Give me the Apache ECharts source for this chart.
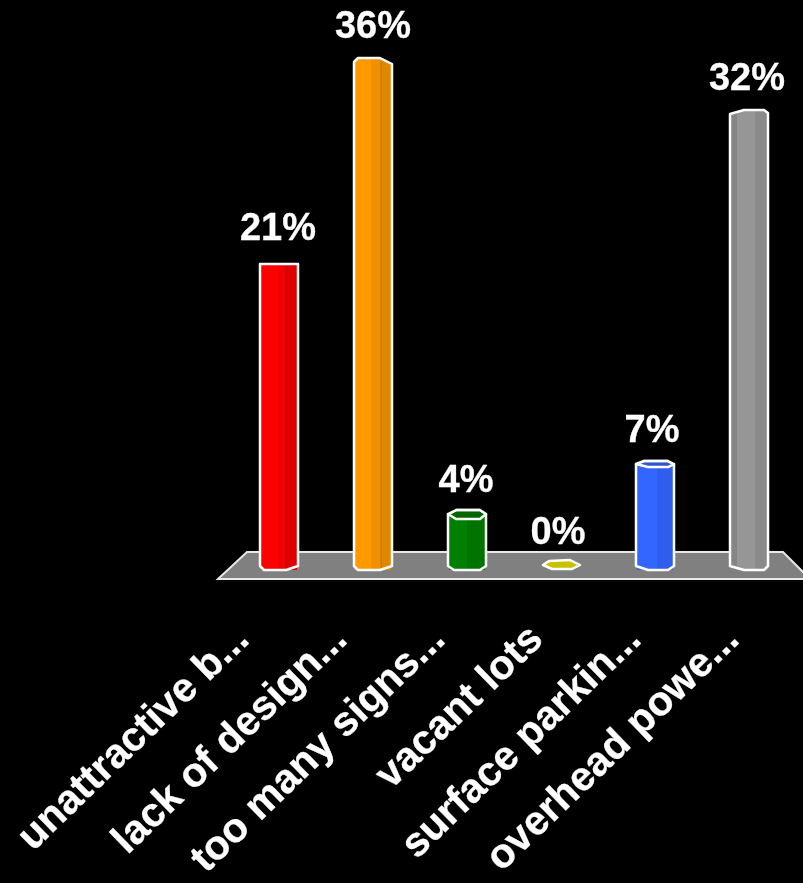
<!DOCTYPE html>
<html>
<head>
<meta charset="utf-8">
<style>html,body{margin:0;padding:0;background:#000}#c{width:803px;height:883px}</style>
<script src="https://cdn.jsdelivr.net/npm/echarts@6/dist/echarts.min.js"></script>
</head>
<body>
<div id="c"></div>
<script>
const categories = ['unattractive b...','lack of design...','too many signs...','vacant lots','surface parkin...','overhead powe...'];
const values = [21,36,4,0,7,32];

// Look of each hexagonal column, all in pixels relative to its bar's centre / top / base.
const looks = [
 {rise:6.5,labelUp:34,labelDx:-1,faces:[[-18,-1,'#ff0000'],[-1,7,'#f00000'],[7,18,'#e00000']],seam:[7,'#c00000'],
  top:[[-19,0],[19,0]],bottom:[[-19,-2],[-15,2],[7,2],[19,-2]]},
 {rise:0,labelUp:30,labelDx:0,faces:[[-18,-2,'#ff9900'],[-2,8,'#f09000'],[8,18,'#e08700']],seam:[8,'#bd7400'],
  top:[[-19,4],[-15,0],[7,0],[19,6]],bottom:[[-19,-2],[-15,2],[7,2],[19,-2]]},
 {rise:1.3,labelUp:29,labelDx:-1,faces:[[-18,0,'#008000'],[0,18,'#007400']],
  top:[[-19,4],[-11,0],[13,0],[19,4]],lid:[[-19,4],[-11,9],[13,9],[19,4]],lidFill:'#006600',bottom:[[-19,-2],[-13,2],[13,2],[19,-2]]},
 {flat:[[-18,-3],[-12,-7],[9,-8],[19,-3],[11,1],[-9,1]],fill:'#c8c000',labelUp:34,labelDx:-3},
 {rise:7.8,labelUp:30,labelDx:-3,faces:[[-18,2,'#3366ff'],[2,18,'#2f5eee']],
  top:[[-19,3],[-11,0],[13,0],[19,3]],lid:[[-19,3],[-7,6],[13,6],[19,3]],lidFill:'#2f55cc',bottom:[[-19,-2],[-7,2],[13,2],[19,-2]]},
 {rise:4.6,labelUp:31,labelDx:-2,faces:[[-18,-12,'#858585'],[-12,6,'#969696'],[6,18,'#8a8a8a']],
  top:[[-19,4],[-5,0],[15,0],[19,3]],bottom:[[-19,-2],[-5,2],[15,2],[19,-2]]}
];

function renderColumn(params, api) {
  const i = params.dataIndex;
  const v = api.value(1);
  const base = api.coord([i, 0]);
  const head = api.coord([i, v]);
  const look = looks[i];
  const cx = base[0];
  const kids = [];
  const rel = (pts, y0) => pts.map(p => [cx + p[0], y0 + p[1]]);
  let labelY;
  if (look.flat) {
    kids.push({type:'polygon',shape:{points:rel(look.flat,base[1])},
      style:{fill:look.fill,stroke:'#fff',lineWidth:2.5,lineJoin:'round'}});
    labelY = base[1] - look.labelUp;
  } else {
    const topY = head[1] - look.rise;
    const outline = rel(look.top,topY).concat(rel(look.bottom.slice().reverse(),base[1]));
    look.faces.forEach(f => {
      kids.push({type:'rect',shape:{x:cx+f[0],y:topY,width:f[1]-f[0],height:base[1]-topY+2},style:{fill:f[2]}});
    });
    if (look.seam) {
      kids.push({type:'line',shape:{x1:cx+look.seam[0],y1:topY+3,x2:cx+look.seam[0],y2:base[1]},
        style:{stroke:look.seam[1],lineWidth:1}});
    }
    if (look.lid) {
      kids.push({type:'polygon',shape:{points:rel(look.top,topY).concat(rel(look.lid.slice().reverse(),topY))},
        style:{fill:look.lidFill,stroke:'#fff',lineWidth:2.5,lineJoin:'round'}});
    }
    // Mask the square corners of the faces with black above the shoulders, then draw the outline.
    const tl = look.top;
    kids.push({type:'polygon',shape:{points:[[cx-20,topY-1],[cx+tl[0][0],topY+tl[0][1]],[cx+tl[1][0],topY+tl[1][1]],[cx+tl[1][0],topY-1]]},
      style:{fill:'#000'}});
    const tr = tl[tl.length-1], tp = tl[tl.length-2];
    kids.push({type:'polygon',shape:{points:[[cx+tp[0],topY-1],[cx+tp[0],topY+tp[1]],[cx+tr[0],topY+tr[1]],[cx+20,topY-1]]},
      style:{fill:'#000'}});
    kids.push({type:'polygon',shape:{points:outline},style:{fill:'none',stroke:'#fff',lineWidth:2.5,lineJoin:'round'}});
    labelY = topY - look.labelUp;
  }
  kids.push({type:'text',style:{text:v+'%',x:cx+look.labelDx,y:labelY,fill:'#fff',stroke:'#fff',lineWidth:0.3,
    font:'bold 38px "Liberation Sans"',align:'center',verticalAlign:'middle'}});
  return {type:'group',children:kids};
}

const chart = echarts.init(document.getElementById('c'), null, {renderer:'canvas'});
chart.setOption({
  animation:false,
  backgroundColor:'#000',
  graphic:{z:0,elements:[{type:'polygon',silent:true,
    shape:{points:[[218,579],[247,552],[783,552],[810,579]]},
    style:{fill:'#808080',stroke:'#e8e8e8',lineWidth:2}}]},
  grid:[
    {left:232,width:564,top:58,height:510},
    {left:194,width:588,top:58,height:510}
  ],
  xAxis:[
    {type:'category',gridIndex:0,data:categories,axisLine:{show:false},axisTick:{show:false},axisLabel:{show:false}},
    {type:'category',gridIndex:1,data:categories,axisLine:{show:false},axisTick:{show:false},
     axisLabel:{interval:0,rotate:44,margin:76,color:'#fff',fontFamily:'Liberation Sans',fontWeight:'bold',fontSize:41,
       textBorderColor:'#fff',textBorderWidth:0.3,hideOverlap:false}}
  ],
  yAxis:[
    {type:'value',gridIndex:0,min:0,max:36,axisLine:{show:false},axisTick:{show:false},axisLabel:{show:false},splitLine:{show:false}},
    {type:'value',gridIndex:1,min:0,max:36,axisLine:{show:false},axisTick:{show:false},axisLabel:{show:false},splitLine:{show:false}}
  ],
  series:[{type:'custom',xAxisIndex:0,yAxisIndex:0,clip:false,renderItem:renderColumn,
    encode:{x:0,y:1},data:values.map((v,i)=>[i,v])}]
});
</script>
</body>
</html>
